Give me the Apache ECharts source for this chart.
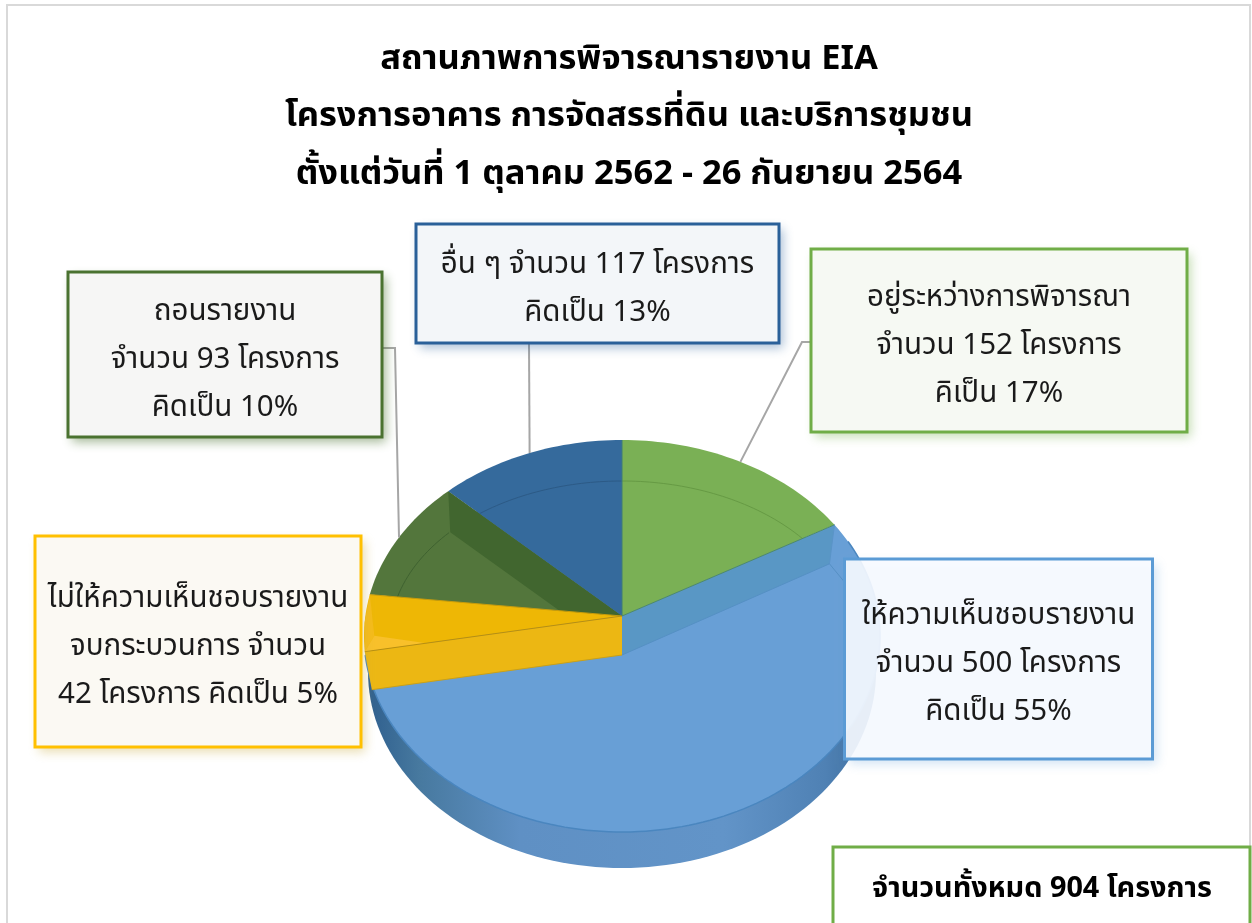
<!DOCTYPE html>
<html>
<head>
<meta charset="utf-8">
<title>EIA</title>
<script src="https://cdn.jsdelivr.net/npm/echarts@6/dist/echarts.min.js"></script>
<style>
  html, body { margin: 0; padding: 0; background: #fff; overflow: hidden; }
  #chart { width: 1252px; height: 923px; }
</style>
</head>
<body>
<div id="chart"></div>
<script>
const titleLines = [
  "สถานภาพการพิจารณารายงาน EIA",
  "โครงการอาคาร การจัดสรรที่ดิน และบริการชุมชน",
  "ตั้งแต่วันที่ 1 ตุลาคม 2562 - 26 กันยายน 2564",
];
const categories = ["อยู่ระหว่างการพิจารณา", "ให้ความเห็นชอบ", "ไม่ให้ความเห็นชอบ", "ถอนรายงาน", "อื่น ๆ"];
const projectCounts = [152, 500, 42, 93, 117];
const labelTexts = [
  "อยู่ระหว่างการพิจารณา\nจำนวน 152 โครงการ\nคิเป็น 17%",
  "ให้ความเห็นชอบรายงาน\nจำนวน 500 โครงการ\nคิดเป็น 55%",
  "ไม่ให้ความเห็นชอบรายงาน\nจบกระบวนการ จำนวน\n42 โครงการ คิดเป็น 5%",
  "ถอนรายงาน\nจำนวน 93 โครงการ\nคิดเป็น 10%",
  "อื่น ๆ จำนวน 117 โครงการ\nคิดเป็น 13%",
];
const totalText = "จำนวนทั้งหมด 904 โครงการ";

const faceColors = ["#7ab055", "#689fd6", "#eeb705", "#53763c", "#356a9c"];
const borderColors = ["#70ad47", "#5b9bd5", "#ffc000", "#4a7230", "#2a6099"];
const boxFills = ["#f6f9f3", "rgba(248,251,255,0.9)", "#fbf9f3", "#f6f6f5", "#f3f6f9"];
const shadowColors = [
  "rgba(112,173,71,0.4)",
  "rgba(91,155,213,0.3)",
  "rgba(200,170,60,0.4)",
  "rgba(74,114,48,0.5)",
  "rgba(42,96,153,0.4)",
];
// x, y, w, h of each callout
const boxLayouts = [
  [811, 249, 376, 183],
  [844.5, 559, 308, 200],
  [35, 536, 326, 211],
  [68, 272, 314, 165],
  [416, 224, 363, 119],
];

const FONT = '"Noto Sans", "Noto Sans Thai", "DejaVu Sans", sans-serif';
const apex = [622, 616];
const cy = 636;
const RX = 258, RY = 196;
const DEPTH = 38;

const total = projectCounts.reduce((a, b) => a + b, 0);
let acc = 0;
const sliceAngles = projectCounts.map((v) => {
  const start = (acc / total) * 360;
  acc += v;
  return [start, (acc / total) * 360];
});

// point where the ray from the apex at this angle meets the ellipse
function rim(deg, rx = RX, ry = RY) {
  const a = (deg * Math.PI) / 180;
  const dx = RX * Math.sin(a);
  const dy = -RY * Math.cos(a);
  const y0 = apex[1] - cy;
  const A = (dx * dx) / (rx * rx) + (dy * dy) / (ry * ry);
  const B = (2 * y0 * dy) / (ry * ry);
  const C = (y0 * y0) / (ry * ry) - 1;
  const t = (-B + Math.sqrt(B * B - 4 * A * C)) / (2 * A);
  return [apex[0] + t * dx, apex[1] + t * dy];
}

function arc(from, to, rx, ry) {
  const pts = [];
  const n = Math.max(2, Math.ceil(Math.abs(to - from) / 1.5));
  for (let i = 0; i <= n; i++) pts.push(rim(from + ((to - from) * i) / n, rx, ry));
  return pts;
}

function lerp(p, q, k) {
  return [p[0] + (q[0] - p[0]) * k, p[1] + (q[1] - p[1]) * k];
}

function intersect(p1, p2, p3, p4) {
  const d = (p1[0] - p2[0]) * (p3[1] - p4[1]) - (p1[1] - p2[1]) * (p3[0] - p4[0]);
  const u = p1[0] * p2[1] - p1[1] * p2[0];
  const v = p3[0] * p4[1] - p3[1] * p4[0];
  return [
    (u * (p3[0] - p4[0]) - (p1[0] - p2[0]) * v) / d,
    (u * (p3[1] - p4[1]) - (p1[1] - p2[1]) * v) / d,
  ];
}

function poly(points, fill) {
  return { type: "polygon", shape: { points }, style: { fill } };
}

function line(points, stroke, lineWidth) {
  return {
    type: "polyline",
    shape: { points },
    style: { fill: null, stroke, lineWidth: lineWidth || 1 },
  };
}

function renderSide() {
  const ellipse = [];
  for (let i = 0; i <= 180; i++) {
    const a = (i * Math.PI) / 90;
    ellipse.push([apex[0] + (RX - 4) * Math.sin(a), cy + DEPTH - 2 + RY * Math.cos(a)]);
  }
  return poly(ellipse, new echarts.graphic.LinearGradient(0, 0, 1, 0, [
    { offset: 0, color: "#2f5f8e" },
    { offset: 0.1, color: "#47799f" },
    { offset: 0.3, color: "#5f90c4" },
    { offset: 0.7, color: "#6294c8" },
    { offset: 0.9, color: "#4f81b4" },
    { offset: 1, color: "#3a6a9a" },
  ]));
}

function renderFace(params) {
  const i = params.dataIndex;
  const [a, b] = sliceAngles[i];
  return poly([apex].concat(arc(a, b, RX, RY)), faceColors[i]);
}

// walls and bevel lines between the slices
function renderDetail() {
  const children = [];
  const [g0, g1] = sliceAngles[0];
  const [y0, y1] = sliceAngles[2];
  const [d0, d1] = sliceAngles[3];
  const [b0, b1] = sliceAngles[4];

  const greenEnd = rim(g1);
  const yellowStart = rim(y0);
  const yellowEnd = rim(y1);
  const lowApex = [apex[0], apex[1] + DEPTH + 1];

  // rim line on the blue slice
  children.push(line(arc(g1 + 6, y0 - 1, RX, RY), "#4a86bf", 1.5));

  // bevel arcs on the raised slices
  children.push(line(arc(b0, b1, 232, 155), "#2c5a86", 1));
  children.push(line(arc(g0, g1, 232, 155), "#669a44", 1));

  // dark wall of the green slice next to the blue one
  const darkEnd = rim(d1);
  const wallLow = [darkEnd[0] + 2, darkEnd[1] + 41];
  const wallFoot = intersect(wallLow, [wallLow[0] + apex[0] - darkEnd[0], wallLow[1] + apex[1] - darkEnd[1]], apex, yellowEnd);
  children.push(line(arc(d0, d0 + 26, 232, 155), "#3f6230", 1));
  children.push(poly([apex, darkEnd, wallLow, wallFoot], "#41662f"));

  // wall between green and the lowered blue slice
  const greenLow = [greenEnd[0] - 5, greenEnd[1] + DEPTH + 1];
  children.push(poly([apex, greenEnd, greenLow, lowApex], "#5997c5"));
  children.push(line([apex, greenEnd], "#4f8a68", 1));
  children.push(line([greenEnd, greenLow], "#5a94c8", 1));
  children.push(line([greenLow, lowApex], "#5590c4", 1));
  children.push(line([greenLow, [greenLow[0] + 14, greenLow[1] + 17]], "#5590c4", 1));

  // yellow slice: inner wedge and front wall
  const notch = lerp(apex, rim(y0 + (y1 - y0) * 0.26), 0.96);
  children.push(poly([yellowEnd, notch, yellowStart, rim((y0 + y1) / 2)], "#f5bb1a"));
  children.push(poly([notch, yellowStart, lerp(apex, yellowStart, 0.76)], "#f8c02a"));
  const yellowLow = [yellowStart[0] + 7, yellowStart[1] + DEPTH];
  children.push(poly([apex, yellowStart, yellowLow, lowApex], "#ecb713"));
  children.push(line([apex, yellowStart], "#b88f10", 1));
  children.push(line([yellowLow, lowApex], "#c9a019", 1));
  children.push(line([apex, yellowEnd], "#c99c08", 1));
  // blue / green top edge
  children.push(line([apex, rim(0)], "#3f7a7a", 1));
  return { type: "group", children };
}

// leader lines end on the middle of their slice
function midRim(i) {
  return rim((sliceAngles[i][0] + sliceAngles[i][1]) / 2);
}

const graphics = [];
graphics.push({
  type: "rect",
  z: -1,
  shape: { x: 7, y: 5, width: 1243, height: 1000 },
  style: { fill: "#fff", stroke: "#d9d9d9", lineWidth: 2 },
});
[59, 116, 174].forEach((y, i) => {
  graphics.push({
    type: "text",
    z: 20,
    x: 629,
    y,
    style: {
      text: titleLines[i],
      font: "bold 34.5px " + FONT,
      fill: "#000",
      textAlign: "center",
      textVerticalAlign: "middle",
    },
  });
});

const leaders = [
  [[810, 342], [802, 342], midRim(0)],
  [[382, 348], [395, 348], midRim(3)],
  [[529, 343], midRim(4)],
];
leaders.forEach((points) => {
  graphics.push({
    type: "polyline",
    z: 8,
    shape: { points },
    style: { fill: null, stroke: "#a6a6a6", lineWidth: 2 },
  });
});

boxLayouts.forEach((box, i) => {
  const [x, y, width, height] = box;
  // fill carries the shadow, border goes on top so no shadow falls inside
  graphics.push({
    type: "rect",
    z: 10,
    shape: { x, y, width, height },
    style: {
      fill: boxFills[i],
      shadowBlur: 10,
      shadowOffsetX: 4,
      shadowOffsetY: 5,
      shadowColor: shadowColors[i],
    },
  });
  graphics.push({
    type: "rect",
    z: 11,
    shape: { x, y, width, height },
    style: { fill: null, stroke: borderColors[i], lineWidth: 3 },
  });
  graphics.push({
    type: "text",
    z: 12,
    x: x + width / 2,
    y: y + height / 2 + 5,
    style: {
      text: labelTexts[i],
      font: "29.5px " + FONT,
      lineHeight: 48,
      fill: "#1a1a1a",
      textAlign: "center",
      textVerticalAlign: "middle",
    },
  });
});

graphics.push({
  type: "rect",
  z: 10,
  shape: { x: 833, y: 847, width: 417, height: 120 },
  style: { fill: "#fff", stroke: "#70ad47", lineWidth: 3 },
});
graphics.push({
  type: "text",
  z: 11,
  x: 1042,
  y: 889,
  style: {
    text: totalText,
    font: "bold 28.8px " + FONT,
    fill: "#000",
    textAlign: "center",
    textVerticalAlign: "middle",
  },
});

const chart = echarts.init(document.getElementById("chart"), null, { renderer: "canvas" });

chart.setOption({
  animation: false,
  backgroundColor: "#fff",
  graphic: graphics,
  series: [
    {
      type: "custom",
      coordinateSystem: "none",
      z: 2,
      silent: true,
      data: [0],
      renderItem: renderSide,
    },
    {
      type: "custom",
      name: "สถานภาพ",
      coordinateSystem: "none",
      z: 3,
      data: projectCounts.map((value, i) => ({ name: categories[i], value })),
      renderItem: renderFace,
    },
    {
      type: "custom",
      coordinateSystem: "none",
      z: 4,
      silent: true,
      data: [0],
      renderItem: renderDetail,
    },
  ],
});
</script>
</body>
</html>
